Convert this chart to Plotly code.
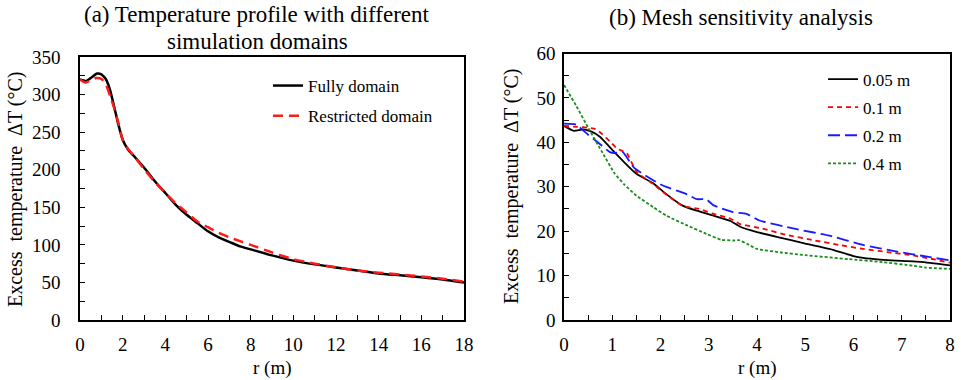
import plotly.graph_objects as go

# (a) Temperature profile with different simulation domains
r_full = [0, 0.3, 0.55, 0.8, 1.0, 1.2, 1.4, 1.6, 1.8, 2.0, 2.25, 2.5, 3.0, 3.5, 4.0,
          4.5, 5.0, 5.5, 6.0, 6.5, 7.0, 7.5, 8.0, 9.0, 10.0, 11.0, 12.0, 13.0, 14.0,
          15.0, 16.0, 17.0, 18.0]
t_full = [320, 318, 323, 328, 327, 321, 307, 284, 260, 240, 227, 219, 203, 185, 169,
          153, 140, 129, 118, 110, 104, 98, 94, 86, 79, 74, 70, 66, 62, 59.5, 57, 54, 50]

r_restr = [0, 0.25, 0.5, 0.75, 1.0, 1.2, 1.4, 1.6, 1.8, 2.0, 2.25, 2.5, 3.0, 3.5, 4.0,
           4.5, 5.0, 5.5, 6.0, 6.5, 7.0, 7.5, 8.0, 9.0, 10.0, 11.0, 12.0, 13.0, 14.0,
           15.0, 16.0, 17.0, 18.0]
t_restr = [320, 316, 319, 322, 321, 314, 299, 282, 262, 240, 228, 219, 201, 184, 169,
           155, 143, 131, 123.5, 116, 110, 105, 100, 90, 81, 75, 70, 66, 63, 60.5, 58, 55, 51]

# (b) Mesh sensitivity analysis
r_005 = [0, 0.2, 0.4, 0.57, 0.75, 1.0, 1.25, 1.5, 1.85, 2.1, 2.45, 2.75, 3.1, 3.45,
         3.65, 4.0, 4.5, 5.0, 5.5, 6.0, 6.2, 6.55, 7.0, 7.4, 8.0]
t_005 = [43.7, 42.6, 42.9, 42.4, 41.2, 38.3, 35.5, 32.9, 30.8, 28.5, 25.8, 24.6, 23.5,
         22.3, 21.0, 19.8, 18.5, 17.2, 16.0, 14.4, 14.0, 13.6, 13.3, 13.1, 12.3]

r_01 = [0, 0.25, 0.5, 0.65, 0.8, 0.95, 1.1, 1.2, 1.3, 1.5, 1.85, 2.1, 2.45, 2.8, 3.1,
        3.45, 3.65, 4.1, 4.6, 5.2, 5.7, 6.2, 6.7, 7.2, 7.6, 8.0]
t_01 = [43.7, 43.5, 43.3, 43.0, 41.8, 40.2, 38.6, 38.1, 37.6, 33.4, 30.6, 28.4, 25.7,
        25.0, 23.9, 22.8, 21.6, 20.6, 19.2, 17.9, 16.9, 16.0, 15.3, 14.6, 13.8, 12.9]

r_02 = [0, 0.25, 0.5, 0.7, 0.95, 1.05, 1.22, 1.45, 2.0, 2.55, 2.75, 2.95, 3.1, 3.5,
        3.78, 4.05, 4.8, 5.5, 6.2, 6.9, 7.5, 8.0]
t_02 = [44.2, 44.0, 41.7, 40.0, 37.8, 37.6, 37.8, 34.3, 30.5, 28.3, 27.2, 27.2, 25.8,
        24.3, 23.9, 22.4, 20.5, 19.0, 16.9, 15.4, 14.3, 13.4]

r_04 = [0, 0.25, 0.5, 0.8, 1.05, 1.25, 1.5, 1.85, 2.12, 2.55, 2.95, 3.25, 3.5, 3.62,
        3.8, 4.0, 4.5, 5.0, 5.9, 6.55, 7.25, 7.5, 8.0]
t_04 = [52.9, 48.3, 43.3, 37.6, 33.0, 30.5, 28.0, 25.4, 23.5, 21.3, 19.4, 18.1, 17.9,
        18.0, 17.1, 16.0, 15.2, 14.6, 13.7, 13.1, 12.2, 11.8, 11.5]

FONT = "Liberation Serif"
W, H = 961, 380


def px_x(p):
    return p / W


def px_y(p):
    return (H - p) / H


fig = go.Figure()

# left panel
fig.add_trace(go.Scatter(x=r_full, y=t_full, mode="lines", name="Fully domain",
                         line=dict(color="black", width=2.5, shape="spline", smoothing=0.6),
                         xaxis="x", yaxis="y", legend="legend", legendgroup="a1"))
fig.add_trace(go.Scatter(x=r_restr, y=t_restr, mode="lines", name="Restricted domain",
                         line=dict(color="#ff1a1a", width=2.5, dash="10px,6px",
                                   shape="spline", smoothing=0.6),
                         xaxis="x", yaxis="y", legend="legend", legendgroup="a2"))

# right panel
fig.add_trace(go.Scatter(x=r_005, y=t_005, mode="lines", name="0.05 m",
                         line=dict(color="black", width=1.8, shape="spline", smoothing=0.4),
                         xaxis="x2", yaxis="y2", legend="legend2", legendgroup="b1"))
fig.add_trace(go.Scatter(x=r_01, y=t_01, mode="lines", name="0.1 m",
                         line=dict(color="#ff0000", width=1.8, dash="5px,4px",
                                   shape="spline", smoothing=0.4),
                         xaxis="x2", yaxis="y2", legend="legend2", legendgroup="b2"))
fig.add_trace(go.Scatter(x=r_02, y=t_02, mode="lines", name="0.2 m",
                         line=dict(color="#1a1aff", width=1.8, dash="12px,5px",
                                   shape="spline", smoothing=0.4),
                         xaxis="x2", yaxis="y2", legend="legend2", legendgroup="b3"))
fig.add_trace(go.Scatter(x=r_04, y=t_04, mode="lines", name="0.4 m",
                         line=dict(color="#1a8c1a", width=1.8, dash="3px,2px",
                                   shape="spline", smoothing=0.4),
                         xaxis="x2", yaxis="y2", legend="legend2", legendgroup="b4"))

axis_common = dict(showline=True, linecolor="black", linewidth=1.5, mirror=True,
                   showgrid=False, zeroline=False, ticks="inside", ticklen=5,
                   tickwidth=1.3, tickcolor="black", automargin=False,
                   tickfont=dict(family=FONT, size=19, color="black"))

fig.update_layout(
    width=W, height=H,
    margin=dict(l=0, r=0, t=0, b=0),
    paper_bgcolor="white", plot_bgcolor="white",
    font=dict(family=FONT, color="black"),
    xaxis=dict(domain=[px_x(80), px_x(464)], range=[0, 18], dtick=2, anchor="y",
               minor=dict(dtick=1, ticks="inside", ticklen=5, tickcolor="black"),
               ticklabelstandoff=6, **axis_common),
    yaxis=dict(domain=[px_y(320), px_y(57)], range=[0, 350], dtick=50, anchor="x",
               minor=dict(dtick=25, ticks="inside", ticklen=5, tickcolor="black"),
               ticklabelstandoff=14, **axis_common),
    xaxis2=dict(domain=[px_x(564), px_x(950)], range=[0, 8], dtick=1, anchor="y2",
                minor=dict(dtick=0.5, ticks="inside", ticklen=5, tickcolor="black"),
                ticklabelstandoff=6, **axis_common),
    yaxis2=dict(domain=[px_y(320), px_y(53.5)], range=[0, 60], dtick=10, anchor="x2",
                minor=dict(dtick=5, ticks="inside", ticklen=5, tickcolor="black"),
                ticklabelstandoff=3, **axis_common),
    legend=dict(x=px_x(268), y=px_y(68), xanchor="left", yanchor="top",
                bgcolor="rgba(0,0,0,0)", tracegroupgap=5,
                font=dict(family=FONT, size=17, color="black")),
    legend2=dict(x=px_x(823), y=px_y(61.5), xanchor="left", yanchor="top",
                 bgcolor="rgba(0,0,0,0)", tracegroupgap=3,
                 font=dict(family=FONT, size=17, color="black")),
    showlegend=True,
)

annotations = [
    dict(text="(a) Temperature profile with different", x=px_x(257), y=px_y(14)),
    dict(text="simulation domains", x=px_x(257), y=px_y(41)),
    dict(text="(b) Mesh sensitivity analysis", x=px_x(741), y=px_y(17)),
]
for a in annotations:
    fig.add_annotation(xref="paper", yref="paper", showarrow=False,
                       xanchor="center", yanchor="middle",
                       font=dict(family=FONT, size=23, color="black"), **a)

for xc in (272, 757):
    fig.add_annotation(text="r (m)", xref="paper", yref="paper", x=px_x(xc), y=px_y(368),
                       showarrow=False, xanchor="center", yanchor="middle",
                       font=dict(family=FONT, size=19, color="black"))
for xc, yc in ((15, 190), (511, 187)):
    fig.add_annotation(text="Excess  temperature  ΔT (°C)", xref="paper", yref="paper",
                       x=px_x(xc), y=px_y(yc), textangle=-90, showarrow=False,
                       xanchor="center", yanchor="middle",
                       font=dict(family=FONT, size=20, color="black"))

fig.write_html("out.html")
